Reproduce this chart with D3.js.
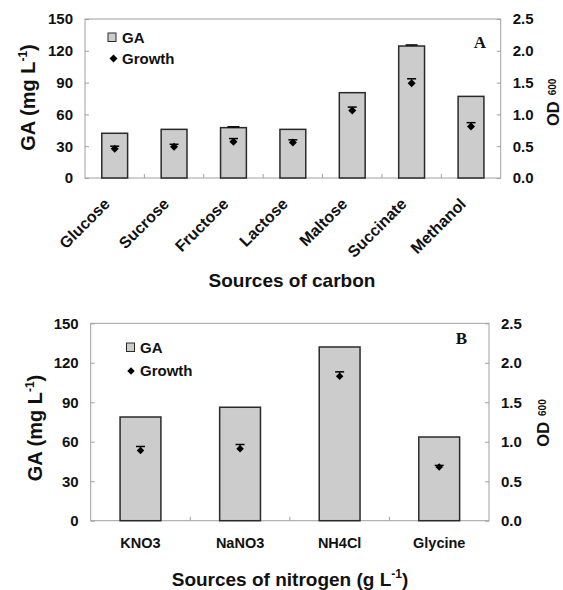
<!DOCTYPE html>
<html>
<head>
<meta charset="utf-8">
<script src="https://cdn.jsdelivr.net/npm/d3@7"></script>
<style>
  html, body { margin: 0; padding: 0; background: #fff; }
  svg { display: block; }
  text { font-family: "Liberation Sans", Arial, sans-serif; font-weight: bold; fill: #111; }
</style>
</head>
<body>
<svg id="chart" width="563" height="590"></svg>
<script>
// ---------- data ----------
const carbonSources = ["Glucose", "Sucrose", "Fructose", "Lactose", "Maltose", "Succinate", "Methanol"];
const carbonGA = [42.2, 45.9, 47.5, 45.9, 80.5, 124.5, 77.0];
const carbonGAErr = [0, 0, 0.8, 0, 0, 1.0, 0];
const carbonGrowth = [0.46, 0.49, 0.57, 0.56, 1.06, 1.49, 0.81];
const carbonGrowthErr = [0.04, 0.04, 0.05, 0.04, 0.055, 0.07, 0.06];

const nitrogenSources = ["KNO3", "NaNO3", "NH4Cl", "Glycine"];
const nitrogenGA = [78.8, 86.2, 132.0, 63.6];
const nitrogenGAErr = [0, 0, 0, 0];
const nitrogenGrowth = [0.89, 0.91, 1.83, 0.68];
const nitrogenGrowthErr = [0.05, 0.055, 0.055, 0.02];

const gaTicks = [0, 30, 60, 90, 120, 150];
const odTicks = [0, 0.5, 1.0, 1.5, 2.0, 2.5];
const legendLabels = ["GA", "Growth"];

// ---------- drawing ----------
const svg = d3.select("#chart");

function drawPanel(o) {
  const g = svg.append("g");
  const x = d3.scaleBand().domain(o.cats).range([o.left, o.right]).padding(0);
  const yGA = d3.scaleLinear().domain([0, 150]).range([o.bottom, o.top]);
  const yOD = d3.scaleLinear().domain([0, 2.5]).range([o.bottom, o.top]);

  // frame
  g.append("rect")
    .attr("x", o.left).attr("y", o.top)
    .attr("width", o.right - o.left).attr("height", o.bottom - o.top)
    .attr("fill", "none").attr("stroke", "#a0a0a0").attr("stroke-width", 1);

  // left axis
  const la = g.append("g").attr("transform", `translate(${o.left},0)`)
    .call(d3.axisLeft(yGA).tickValues(gaTicks).tickSize(-4).tickPadding(12).tickFormat(d3.format("d")));
  la.select(".domain").remove();
  la.selectAll("line").attr("stroke", "#a0a0a0");
  la.selectAll("text").style("font-size", "15px").style("font-family", "Liberation Sans, Arial, sans-serif").style("font-weight", "bold").attr("fill", "#111");

  // right axis
  const ra = g.append("g").attr("transform", `translate(${o.right},0)`)
    .call(d3.axisRight(yOD).tickValues(odTicks).tickSize(-4).tickPadding(12).tickFormat(d3.format(".1f")));
  ra.select(".domain").remove();
  ra.selectAll("line").attr("stroke", "#a0a0a0");
  ra.selectAll("text").style("font-size", "15px").style("font-family", "Liberation Sans, Arial, sans-serif").style("font-weight", "bold").attr("fill", "#111");

  // bottom category separators (inward ticks)
  g.selectAll(".sep").data(o.cats.slice(1)).enter().append("line")
    .attr("x1", d => x(d)).attr("x2", d => x(d))
    .attr("y1", o.bottom).attr("y2", o.bottom - 4)
    .attr("stroke", "#a0a0a0");

  const bw = x.bandwidth() * o.barFrac;
  const cx = d => x(d) + x.bandwidth() / 2;

  // bars
  g.selectAll(".bar").data(o.cats).enter().append("rect")
    .attr("x", d => cx(d) - bw / 2)
    .attr("y", (d, i) => yGA(o.ga[i]))
    .attr("width", bw)
    .attr("height", (d, i) => yGA(0) - yGA(o.ga[i]))
    .attr("fill", "#cccccc").attr("stroke", "#2a2a2a").attr("stroke-width", 1.5);

  // GA error bars (plus)
  o.cats.forEach((d, i) => {
    if (o.gaErr[i] > 0) {
      const y1 = yGA(o.ga[i]), y2 = yGA(o.ga[i] + o.gaErr[i]);
      g.append("line").attr("x1", cx(d)).attr("x2", cx(d)).attr("y1", y1).attr("y2", y2).attr("stroke", "#000");
      g.append("line").attr("x1", cx(d) - 6).attr("x2", cx(d) + 6).attr("y1", y2).attr("y2", y2).attr("stroke", "#000").attr("stroke-width", 1.5);
    }
  });

  // growth error bars (plus) + diamonds
  o.cats.forEach((d, i) => {
    const y1 = yOD(o.growth[i]), y2 = yOD(o.growth[i] + o.growthErr[i]);
    g.append("line").attr("x1", cx(d)).attr("x2", cx(d)).attr("y1", y1).attr("y2", y2).attr("stroke", "#000").attr("stroke-width", 1.2);
    g.append("line").attr("x1", cx(d) - 4.5).attr("x2", cx(d) + 4.5).attr("y1", y2).attr("y2", y2).attr("stroke", "#000").attr("stroke-width", 1.5);
  });
  const diamond = d3.symbol().type(d3.symbolSquare).size(o.diamondSize);
  g.selectAll(".pt").data(o.cats).enter().append("path")
    .attr("d", diamond)
    .attr("transform", (d, i) => `translate(${cx(d)},${yOD(o.growth[i])}) rotate(45)`)
    .attr("fill", "#000");

  // x tick labels
  const xl = g.selectAll(".xl").data(o.cats).enter().append("text")
    .attr("font-size", o.rotate ? 16 : 14.5)
    .text(d => d);
  if (o.rotate) {
    xl.attr("text-anchor", "end")
      .attr("transform", d => `translate(${cx(d) - 4},${o.labelY}) rotate(-45)`);
  } else {
    xl.attr("text-anchor", "middle").attr("x", d => cx(d)).attr("y", o.labelY);
  }

  // x title
  const xt = g.append("text").attr("x", o.xTitleX).attr("y", o.xTitleY)
    .attr("text-anchor", "middle").attr("font-size", 19);
  xt.append("tspan").text(o.xTitle);
  if (o.xTitleUnit) {
    xt.append("tspan").text("(g L");
    xt.append("tspan").text("-1").attr("font-size", 12).attr("dy", -8);
    xt.append("tspan").text(")").attr("dy", 8);
  }

  // left y title
  const yt = g.append("text")
    .attr("transform", `translate(${o.yTitleX},${o.yTitleY}) rotate(-90)`)
    .attr("text-anchor", "middle").attr("font-size", 20);
  yt.append("tspan").text("GA (mg L");
  yt.append("tspan").text("-1").attr("font-size", 12).attr("dy", -8);
  yt.append("tspan").text(")").attr("dy", 8);

  // right y title
  const rt = g.append("text")
    .attr("transform", `translate(${o.odX},${o.odY}) rotate(-90)`)
    .attr("text-anchor", "start").attr("font-size", 16.5);
  rt.append("tspan").text("OD");
  rt.append("tspan").text("600").attr("font-size", 10).attr("dx", 6).attr("dy", -3);

  // panel letter
  g.append("text").attr("x", o.letterX).attr("y", o.letterY)
    .attr("text-anchor", "middle")
    .style("font-family", "Liberation Serif, Times New Roman, serif")
    .attr("font-size", 17).text(o.letter);

  // legend
  g.append("rect").attr("x", o.legX - 4).attr("y", o.legY1 - 4.5).attr("width", 8).attr("height", 8.5)
    .attr("fill", "#cccccc").attr("stroke", "#2a2a2a").attr("stroke-width", 1);
  g.append("text").attr("x", o.legTextX).attr("y", o.legY1).attr("dy", "0.36em")
    .attr("font-size", 15).text(legendLabels[0]);
  g.append("path").attr("d", diamond)
    .attr("transform", `translate(${o.legX + o.legDiaDx},${o.legY2}) rotate(45)`).attr("fill", "#000");
  g.append("text").attr("x", o.legTextX).attr("y", o.legY2).attr("dy", "0.36em")
    .attr("font-size", 15).text(legendLabels[1]);
}

drawPanel({
  cats: carbonSources, ga: carbonGA, gaErr: carbonGAErr, growth: carbonGrowth, growthErr: carbonGrowthErr,
  left: 85, right: 500.7, top: 19, bottom: 178, barFrac: 0.435, diamondSize: 32,
  rotate: true, labelY: 205,
  xTitle: "Sources of carbon", xTitleUnit: false, xTitleX: 292, xTitleY: 287,
  yTitleX: 35, yTitleY: 97.5,
  odX: 558.5, odY: 126,
  letter: "A", letterX: 480, letterY: 47.5,
  legX: 112, legY1: 37.5, legY2: 58.5, legDiaDx: 1.5, legTextX: 122
});

drawPanel({
  cats: nitrogenSources, ga: nitrogenGA, gaErr: nitrogenGAErr, growth: nitrogenGrowth, growthErr: nitrogenGrowthErr,
  left: 90.7, right: 489, top: 323.3, bottom: 520.7, barFrac: 0.41, diamondSize: 28,
  rotate: false, labelY: 548,
  xTitle: "Sources of nitrogen ", xTitleUnit: true, xTitleX: 290, xTitleY: 586,
  yTitleX: 41.7, yTitleY: 428,
  odX: 549, odY: 446.7,
  letter: "B", letterX: 461.5, letterY: 344.3,
  legX: 130.5, legY1: 347.5, legY2: 371, legDiaDx: 0.5, legTextX: 140
});
</script>
</body>
</html>
